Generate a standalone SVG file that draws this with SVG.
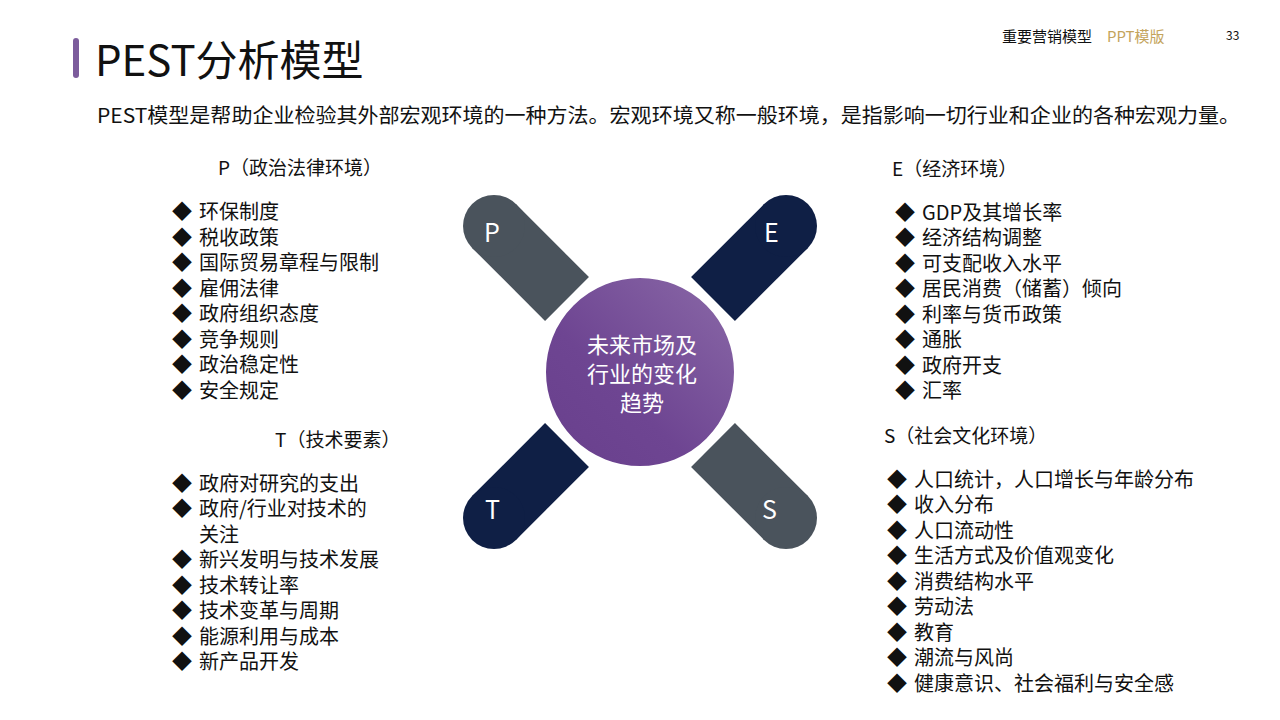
<svg xmlns="http://www.w3.org/2000/svg" width="1280" height="720" viewBox="0 0 1280 720">
<style>
text{font-family:"Noto Sans CJK SC","Liberation Sans",sans-serif;fill:#111}
.l{font-size:20px}
.h{font-size:19px}
.k{font-size:25px;fill:#fff}
.c{font-size:22px;fill:#fff}
</style>
<defs>
<linearGradient id="g" x1="1" y1="0" x2="0" y2="1"><stop offset="0" stop-color="#8b6aa8"/><stop offset="0.6" stop-color="#6e4592"/><stop offset="1" stop-color="#683f8c"/></linearGradient>
</defs>
<rect width="1280" height="720" fill="#fff"/>
<rect x="73" y="38" width="6" height="40" rx="3" fill="#7c5c9c"/>
<text x="95" y="76" style="font-size:42px">PEST分析模型</text>
<text x="1002" y="42" style="font-size:15px">重要营销模型</text>
<text x="1107" y="42" style="font-size:15px;fill:#c4a45c">PPT模版</text>
<text x="1226" y="40" style="font-size:12px">33</text>
<text x="97" y="123" style="font-size:20px" textLength="1143" lengthAdjust="spacingAndGlyphs">PEST模型是帮助企业检验其外部宏观环境的一种方法。宏观环境又称一般环境，是指影响一切行业和企业的各种宏观力量。</text>
<g id="connectors" stroke-width="62" fill="none">
<line x1="494" y1="226" x2="567" y2="299" stroke="#4a535c"/>
<line x1="786" y1="226" x2="713" y2="299" stroke="#0f1f45"/>
<line x1="494" y1="518" x2="567" y2="445" stroke="#0f1f45"/>
<line x1="786" y1="518" x2="713" y2="445" stroke="#4a535c"/>
</g>
<g id="P"><circle cx="494" cy="226" r="31" fill="#4a535c"/><text x="484" y="242" class="k">P</text></g>
<g id="E"><circle cx="786" cy="226" r="31" fill="#0f1f45"/><text x="764" y="242" class="k">E</text></g>
<g id="T"><circle cx="494" cy="518" r="31" fill="#0f1f45"/><text x="485" y="519" class="k">T</text></g>
<g id="S"><circle cx="786" cy="518" r="31" fill="#4a535c"/><text x="762" y="519" class="k">S</text></g>
<g id="center"><circle cx="640" cy="372" r="98" fill="url(#g)" stroke="#fff" stroke-width="8"/>
<text x="642" y="353" text-anchor="middle" class="c">未来市场及</text>
<text x="642" y="382" text-anchor="middle" class="c">行业的变化</text>
<text x="642" y="411" text-anchor="middle" class="c">趋势</text></g>
<g id="Plist" class="l">
<text x="218" y="175" class="h">P（政治法律环境）</text>
<text x="172" y="219">◆</text><text x="199" y="219">环保制度</text>
<text x="172" y="245">◆</text><text x="199" y="245">税收政策</text>
<text x="172" y="270">◆</text><text x="199" y="270">国际贸易章程与限制</text>
<text x="172" y="296">◆</text><text x="199" y="296">雇佣法律</text>
<text x="172" y="321">◆</text><text x="199" y="321">政府组织态度</text>
<text x="172" y="347">◆</text><text x="199" y="347">竞争规则</text>
<text x="172" y="372">◆</text><text x="199" y="372">政治稳定性</text>
<text x="172" y="398">◆</text><text x="199" y="398">安全规定</text>
</g>
<g id="Tlist" class="l">
<text x="275" y="447" class="h">T（技术要素）</text>
<text x="172" y="491">◆</text><text x="199" y="491">政府对研究的支出</text>
<text x="172" y="516">◆</text><text x="199" y="516">政府/行业对技术的</text>
<text x="199" y="542">关注</text>
<text x="172" y="567">◆</text><text x="199" y="567">新兴发明与技术发展</text>
<text x="172" y="593">◆</text><text x="199" y="593">技术转让率</text>
<text x="172" y="618">◆</text><text x="199" y="618">技术变革与周期</text>
<text x="172" y="644">◆</text><text x="199" y="644">能源利用与成本</text>
<text x="172" y="669">◆</text><text x="199" y="669">新产品开发</text>
</g>
<g id="Elist" class="l">
<text x="892" y="176" class="h">E（经济环境）</text>
<text x="895" y="220">◆</text><text x="922" y="220">GDP及其增长率</text>
<text x="895" y="245">◆</text><text x="922" y="245">经济结构调整</text>
<text x="895" y="271">◆</text><text x="922" y="271">可支配收入水平</text>
<text x="895" y="296">◆</text><text x="922" y="296">居民消费（储蓄）倾向</text>
<text x="895" y="322">◆</text><text x="922" y="322">利率与货币政策</text>
<text x="895" y="347">◆</text><text x="922" y="347">通胀</text>
<text x="895" y="373">◆</text><text x="922" y="373">政府开支</text>
<text x="895" y="398">◆</text><text x="922" y="398">汇率</text>
</g>
<g id="Slist" class="l">
<text x="884" y="443" class="h">S（社会文化环境）</text>
<text x="887" y="487">◆</text><text x="914" y="487">人口统计，人口增长与年龄分布</text>
<text x="887" y="512">◆</text><text x="914" y="512">收入分布</text>
<text x="887" y="538">◆</text><text x="914" y="538">人口流动性</text>
<text x="887" y="563">◆</text><text x="914" y="563">生活方式及价值观变化</text>
<text x="887" y="589">◆</text><text x="914" y="589">消费结构水平</text>
<text x="887" y="614">◆</text><text x="914" y="614">劳动法</text>
<text x="887" y="640">◆</text><text x="914" y="640">教育</text>
<text x="887" y="665">◆</text><text x="914" y="665">潮流与风尚</text>
<text x="887" y="691">◆</text><text x="914" y="691">健康意识、社会福利与安全感</text>
</g>
</svg>
